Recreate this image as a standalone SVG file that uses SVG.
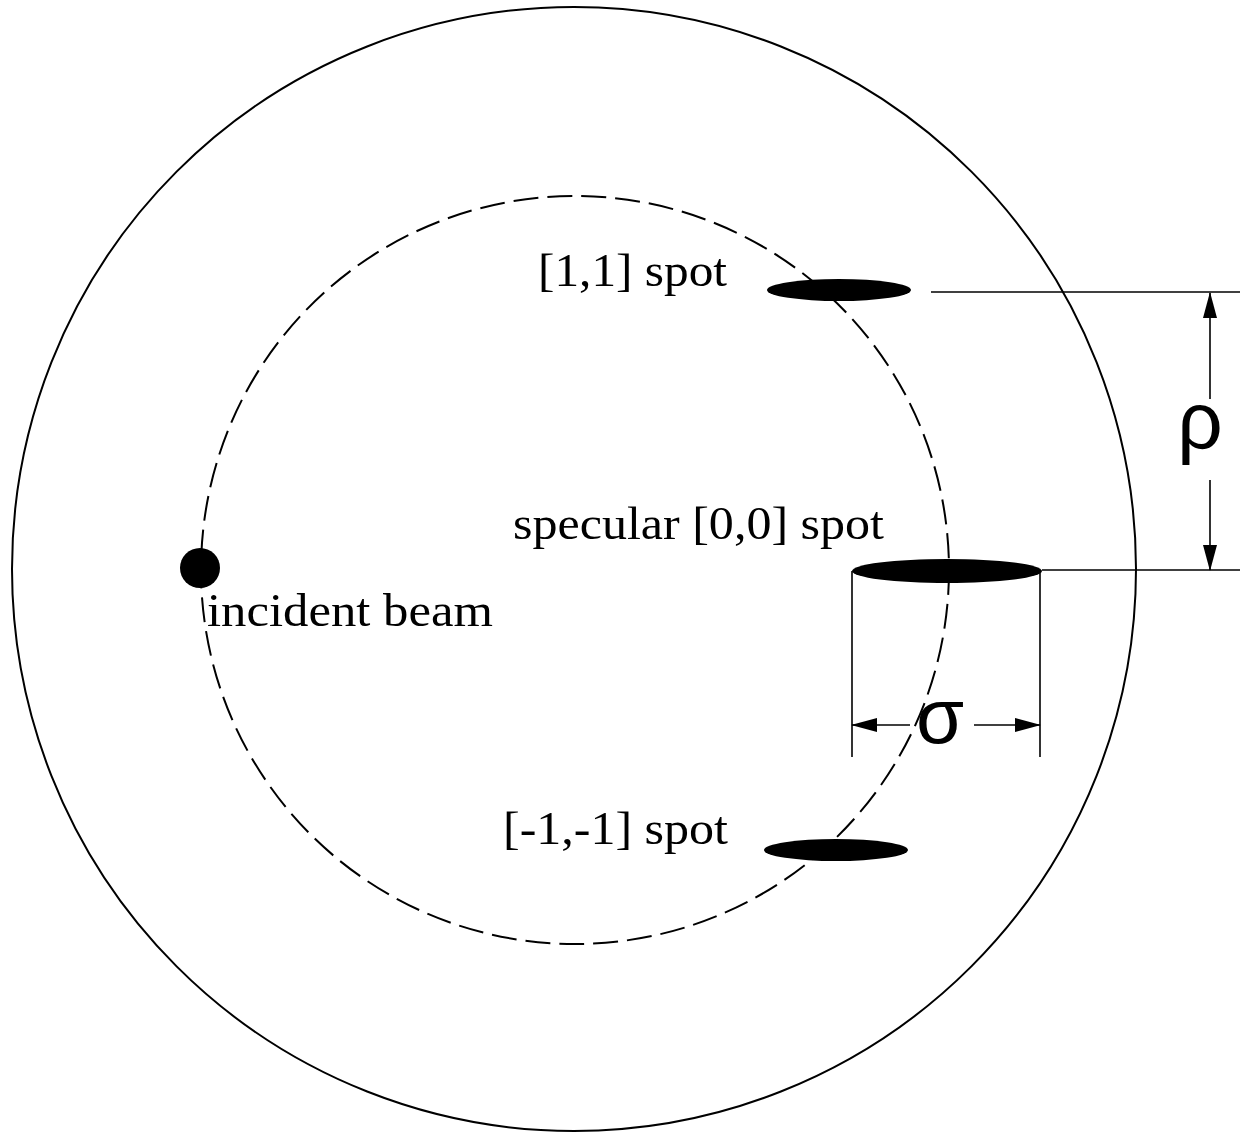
<svg xmlns="http://www.w3.org/2000/svg" width="1248" height="1132" viewBox="0 0 1248 1132">
<style>
.lbl{font-family:"Liberation Serif","Times New Roman",serif;font-size:47px;fill:#000}
.sym{font-family:"Liberation Sans",Arial,sans-serif;fill:#000}
.dim{stroke:#000;stroke-width:1.6;fill:none}
.spot{fill:#000}
</style>
<defs>
<marker id="ah" markerWidth="26" markerHeight="14" refX="25" refY="7" orient="auto" markerUnits="userSpaceOnUse">
<path d="M0,0 L26,7 L0,14 Z" fill="#000"/>
</marker>
</defs>
<rect width="1248" height="1132" fill="#fff"/>
<g id="screen">
<circle cx="574" cy="569" r="562" fill="none" stroke="#000" stroke-width="2"/>
</g>
<g id="ewald-circle">
<circle cx="575" cy="570" r="374" fill="none" stroke="#000" stroke-width="2" stroke-dasharray="25 9"/>
</g>
<g id="incident-beam">
<circle cx="200" cy="568" r="20" class="spot"/>
<text class="lbl" x="207" y="626" textLength="286" lengthAdjust="spacingAndGlyphs">incident beam</text>
</g>
<g id="spot-11">
<ellipse cx="839" cy="290" rx="72" ry="11" class="spot"/>
<text class="lbl" x="538" y="286" textLength="189" lengthAdjust="spacingAndGlyphs">[1,1] spot</text>
</g>
<g id="spot-00">
<ellipse cx="947" cy="571" rx="95" ry="12" class="spot"/>
<text class="lbl" x="513" y="539" textLength="371" lengthAdjust="spacingAndGlyphs">specular [0,0] spot</text>
</g>
<g id="spot-m1m1">
<ellipse cx="836" cy="850" rx="72" ry="11" class="spot"/>
<text class="lbl" x="503" y="844" textLength="225" lengthAdjust="spacingAndGlyphs">[-1,-1] spot</text>
</g>
<g id="connectors">
<line class="dim" x1="931" y1="292" x2="1240" y2="292"/>
<line class="dim" x1="1042" y1="570" x2="1240" y2="570"/>
<line class="dim" x1="1210" y1="399" x2="1210" y2="293" marker-end="url(#ah)"/>
<line class="dim" x1="1210" y1="480" x2="1210" y2="570" marker-end="url(#ah)"/>
<line class="dim" x1="852" y1="571" x2="852" y2="757"/>
<line class="dim" x1="1040" y1="571" x2="1040" y2="757"/>
<line class="dim" x1="910" y1="725" x2="852" y2="725" marker-end="url(#ah)"/>
<line class="dim" x1="974" y1="725" x2="1040" y2="725" marker-end="url(#ah)"/>
</g>
<g id="rho">
<text class="sym" x="1200" y="448" font-size="80" text-anchor="middle">ρ</text>
</g>
<g id="sigma">
<text class="sym" x="940" y="743" font-size="78" text-anchor="middle">σ</text>
</g>
</svg>
